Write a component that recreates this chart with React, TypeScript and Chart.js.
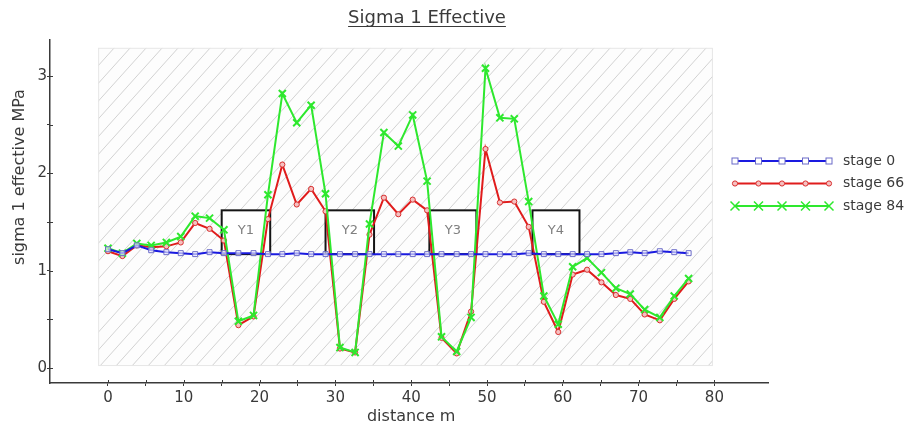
import React, { useEffect, useRef } from "react";
import { Chart, registerables } from "chart.js";
Chart.register(...registerables);

const distances = [0, 1.9, 3.8, 5.7, 7.7, 9.6, 11.5, 13.4, 15.3, 17.2, 19.2, 21.1, 23.0, 24.9, 26.8, 28.7, 30.6, 32.6, 34.5, 36.4, 38.3, 40.2, 42.1, 44.0, 46.0, 47.9, 49.8, 51.7, 53.6, 55.5, 57.5, 59.4, 61.3, 63.2, 65.1, 67.0, 68.9, 70.8, 72.8, 74.7, 76.6];
const stage0 = [1.22, 1.18, 1.26, 1.21, 1.19, 1.18, 1.17, 1.19, 1.18, 1.18, 1.18, 1.17, 1.17, 1.18, 1.17, 1.17, 1.17, 1.17, 1.17, 1.17, 1.17, 1.17, 1.17, 1.17, 1.17, 1.17, 1.17, 1.17, 1.17, 1.18, 1.17, 1.17, 1.17, 1.17, 1.17, 1.18, 1.19, 1.18, 1.20, 1.19, 1.18];
const stage66 = [1.20, 1.15, 1.26, 1.24, 1.25, 1.29, 1.49, 1.43, 1.31, 0.44, 0.53, 1.53, 2.09, 1.68, 1.84, 1.61, 0.20, 0.16, 1.37, 1.75, 1.58, 1.73, 1.62, 0.31, 0.15, 0.58, 2.25, 1.70, 1.71, 1.45, 0.68, 0.37, 0.96, 1.01, 0.88, 0.75, 0.71, 0.55, 0.49, 0.71, 0.89];
const stage84 = [1.23, 1.18, 1.28, 1.26, 1.29, 1.35, 1.56, 1.54, 1.42, 0.48, 0.54, 1.78, 2.82, 2.52, 2.70, 1.79, 0.21, 0.16, 1.48, 2.42, 2.28, 2.60, 1.92, 0.32, 0.17, 0.52, 3.08, 2.57, 2.56, 1.71, 0.74, 0.45, 1.04, 1.13, 0.98, 0.82, 0.76, 0.60, 0.52, 0.74, 0.92];

const seriesNames = ["stage 0", "stage 66", "stage 84"];
const xTickValues = [0, 5, 10, 15, 20, 25, 30, 35, 40, 45, 50, 55, 60, 65, 70, 75, 80];
const yTickValues = [0, 0.5, 1, 1.5, 2, 2.5, 3];

const zoneLabels = ["Y1", "Y2", "Y3", "Y4"];
const zoneStart = [15.0, 28.7, 42.4, 56.0];
const zoneEnd = [21.4, 35.1, 48.6, 62.2];
const zoneBottom = 1.17;
const zoneTop = 1.62;

const FONT = "'DejaVu Sans', 'Liberation Sans', sans-serif";
const TEXT = "#3a3a3a";
const AXIS = "#3a3a3a";

const BLUE = "#1a1ae0";
const RED = "#e01c1c";
const GREEN = "#2ee82e";

function drawMarker(ctx: CanvasRenderingContext2D, kind: number, x: number, y: number) {
  ctx.save();
  if (kind === 0) {
    ctx.strokeStyle = "#6a6ac8";
    ctx.fillStyle = "#ffffff";
    ctx.lineWidth = 1;
    ctx.fillRect(x - 3, y - 3, 6, 6);
    ctx.strokeRect(x - 3, y - 3, 6, 6);
  } else if (kind === 1) {
    ctx.strokeStyle = "#d83030";
    ctx.fillStyle = "#f6c0c0";
    ctx.lineWidth = 1;
    ctx.beginPath();
    ctx.arc(x, y, 2.6, 0, Math.PI * 2);
    ctx.fill();
    ctx.stroke();
  } else {
    ctx.strokeStyle = GREEN;
    ctx.lineWidth = 1.5;
    ctx.beginPath();
    ctx.moveTo(x - 4.5, y - 4.5);
    ctx.lineTo(x + 4.5, y + 4.5);
    ctx.moveTo(x - 4.5, y + 4.5);
    ctx.lineTo(x + 4.5, y - 4.5);
    ctx.stroke();
  }
  ctx.restore();
}

const backgroundPlugin = {
  id: "hatchAndZones",
  beforeDatasetsDraw(chart: any) {
    const { ctx } = chart;
    const xs = chart.scales.x;
    const ys = chart.scales.y;
    const l = xs.getPixelForValue(-1.3);
    const r = xs.getPixelForValue(79.8);
    const t = ys.getPixelForValue(3.29);
    const b = ys.getPixelForValue(0.02);
    ctx.save();
    ctx.fillStyle = "#fdfdfd";
    ctx.fillRect(l, t, r - l, b - t);
    ctx.beginPath();
    ctx.rect(l, t, r - l, b - t);
    ctx.clip();
    ctx.strokeStyle = "#d2d2d2";
    ctx.lineWidth = 1;
    const h = b - t;
    ctx.beginPath();
    for (let k = l - h; k < r + 2; k += 16) {
      ctx.moveTo(k, b);
      ctx.lineTo(k + h * 0.9, t);
    }
    ctx.stroke();
    ctx.restore();
    ctx.save();
    ctx.strokeStyle = "#e6e6e6";
    ctx.lineWidth = 1;
    ctx.strokeRect(l + 0.5, t + 0.5, r - l - 1, b - t - 1);
    ctx.restore();

    // zones
    ctx.save();
    for (let i = 0; i < zoneLabels.length; i++) {
      const zl = xs.getPixelForValue(zoneStart[i]);
      const zr = xs.getPixelForValue(zoneEnd[i]);
      const zt = ys.getPixelForValue(zoneTop);
      const zb = ys.getPixelForValue(zoneBottom);
      ctx.fillStyle = "#ffffff";
      ctx.fillRect(zl, zt, zr - zl, zb - zt);
      ctx.strokeStyle = "#151515";
      ctx.lineWidth = 2;
      ctx.strokeRect(zl, zt, zr - zl, zb - zt);
      ctx.fillStyle = "#808080";
      ctx.font = `13px ${FONT}`;
      ctx.textAlign = "center";
      ctx.textBaseline = "middle";
      ctx.fillText(zoneLabels[i], (zl + zr) / 2, zt + (zb - zt) * 0.47);
    }
    ctx.restore();
  },
  afterDraw(chart: any) {
    const { ctx } = chart;
    const xs = chart.scales.x;
    const ys = chart.scales.y;
    ctx.save();
    // title
    ctx.fillStyle = TEXT;
    ctx.font = `18px ${FONT}`;
    ctx.textAlign = "center";
    ctx.textBaseline = "alphabetic";
    const title = "Sigma 1 Effective";
    const tx = 427;
    ctx.fillText(title, tx, 23);
    const tw = ctx.measureText(title).width;
    ctx.strokeStyle = TEXT;
    ctx.lineWidth = 1.2;
    ctx.beginPath();
    ctx.moveTo(tx - tw / 2, 26.5);
    ctx.lineTo(tx + tw / 2, 26.5);
    ctx.stroke();

    // x title
    ctx.font = `16px ${FONT}`;
    ctx.textBaseline = "middle";
    ctx.fillText("distance m", xs.getPixelForValue(40), 417);

    // y title
    ctx.save();
    ctx.translate(20, 177);
    ctx.rotate(-Math.PI / 2);
    ctx.fillText("sigma 1 effective MPa", 0, 0);
    ctx.restore();

    // small crossing ticks inside axes
    ctx.strokeStyle = AXIS;
    ctx.lineWidth = 1;
    ctx.beginPath();
    for (const v of xTickValues) {
      const px = Math.round(xs.getPixelForValue(v)) + 0.5;
      ctx.moveTo(px, xs.top - 3);
      ctx.lineTo(px, xs.top);
    }
    for (const v of yTickValues) {
      const py = Math.round(ys.getPixelForValue(v)) + 0.5;
      ctx.moveTo(ys.right, py);
      ctx.lineTo(ys.right + 3, py);
    }
    ctx.stroke();

    // legend
    const colors = [BLUE, RED, GREEN];
    const rowsY = [161, 183.5, 206];
    const lx0 = 735;
    const lx1 = 829;
    for (let s = 0; s < 3; s++) {
      const y = rowsY[s];
      ctx.strokeStyle = colors[s];
      ctx.lineWidth = 2;
      ctx.beginPath();
      ctx.moveTo(lx0, y);
      ctx.lineTo(lx1, y);
      ctx.stroke();
      for (let k = 0; k < 5; k++) {
        drawMarker(ctx, s, lx0 + ((lx1 - lx0) * k) / 4, y);
      }
      ctx.fillStyle = TEXT;
      ctx.font = `14px ${FONT}`;
      ctx.textAlign = "left";
      ctx.textBaseline = "middle";
      ctx.fillText(seriesNames[s], 843, y);
    }
    ctx.restore();
  },
};

export default function App() {
  const ref = useRef<HTMLCanvasElement | null>(null);
  useEffect(() => {
    if (!ref.current) return;
    const pts = (arr: number[]) => arr.map((v, i) => ({ x: distances[i], y: v }));
    const chart = new Chart(ref.current, {
      type: "line",
      data: {
        datasets: [
          {
            label: seriesNames[0],
            data: pts(stage0),
            borderColor: BLUE,
            borderWidth: 2,
            pointStyle: "rect",
            pointRadius: 3.5,
            pointBorderColor: "#6a6ac8",
            pointBackgroundColor: "rgba(255,255,255,0.6)",
            pointBorderWidth: 1,
            tension: 0,
            order: 0,
          },
          {
            label: seriesNames[1],
            data: pts(stage66),
            borderColor: RED,
            borderWidth: 2,
            pointStyle: "circle",
            pointRadius: 2.6,
            pointBorderColor: "#d83030",
            pointBackgroundColor: "#f6c0c0",
            pointBorderWidth: 1,
            tension: 0,
            order: 2,
          },
          {
            label: seriesNames[2],
            data: pts(stage84),
            borderColor: GREEN,
            borderWidth: 2,
            pointStyle: "crossRot",
            pointRadius: 5,
            pointBorderColor: GREEN,
            pointBorderWidth: 2,
            tension: 0,
            order: 1,
          },
        ],
      },
      plugins: [backgroundPlugin],
      options: {
        animation: false,
        responsive: false,
        maintainAspectRatio: false,
        layout: { padding: { left: 0, right: 137, top: 40, bottom: 0 } },
        plugins: {
          legend: { display: false },
          tooltip: { enabled: false },
          title: { display: false },
        },
        scales: {
          x: {
            type: "linear",
            min: -7.65,
            max: 87.07,
            afterFit: (s: any) => {
              s.height = 47;
            },
            afterBuildTicks: (s: any) => {
              s.ticks = xTickValues.map((v) => ({ value: v }));
            },
            border: { display: true, color: AXIS, width: 1.5 },
            grid: { drawOnChartArea: false, drawTicks: true, tickLength: 3, color: AXIS, lineWidth: 1 },
            ticks: {
              autoSkip: false,
              maxRotation: 0,
              padding: 3,
              color: TEXT,
              font: { family: FONT, size: 15 },
              callback: (v: any) => (Number(v) % 10 === 0 ? String(v) : ""),
            },
          },
          y: {
            type: "linear",
            min: -0.154,
            max: 3.37,
            afterFit: (s: any) => {
              s.width = 50;
            },
            afterBuildTicks: (s: any) => {
              s.ticks = yTickValues.map((v) => ({ value: v }));
            },
            border: { display: true, color: AXIS, width: 1.5 },
            grid: { drawOnChartArea: false, drawTicks: true, tickLength: 3, color: AXIS, lineWidth: 1 },
            ticks: {
              autoSkip: false,
              padding: 0,
              color: TEXT,
              font: { family: FONT, size: 15 },
              callback: (v: any) => (Number(v) % 1 === 0 ? String(v) : ""),
            },
          },
        },
      },
    });
    return () => chart.destroy();
  }, []);
  return (
    <div style={{ position: "fixed", left: 0, top: 0, width: 905, height: 430, background: "#ffffff" }}>
      <canvas ref={ref} width={905} height={430} style={{ width: 905, height: 430, display: "block" }} />
    </div>
  );
}
